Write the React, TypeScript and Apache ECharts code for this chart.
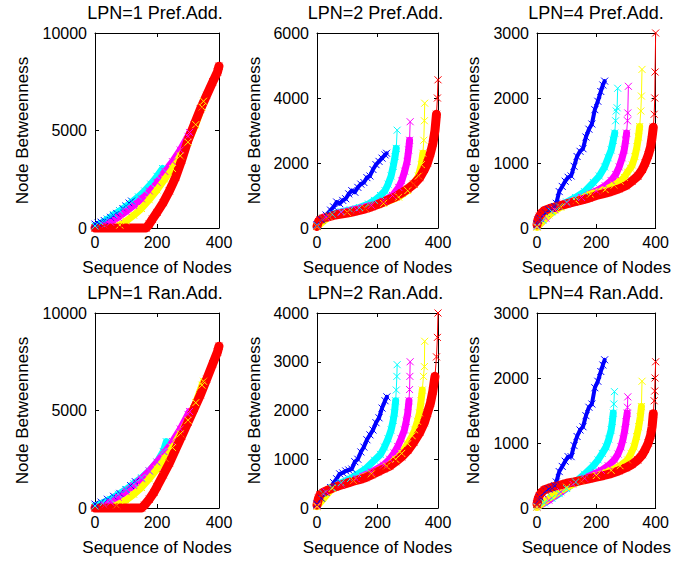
import React, { useEffect, useRef } from "react";
import * as echarts from "echarts";

// ---------- texts ----------
const panelTitles = [
  "LPN=1 Pref.Add.",
  "LPN=2 Pref.Add.",
  "LPN=4 Pref.Add.",
  "LPN=1 Ran.Add.",
  "LPN=2 Ran.Add.",
  "LPN=4 Ran.Add.",
];
const xAxisTitle = "Sequence of Nodes";
const yAxisTitle = "Node Betweenness";

// ---------- axis scales ----------
const xMax = 400;
const xStep = 200;
const yMaxes = [10000, 6000, 3000, 10000, 4000, 3000];
const ySteps = [5000, 2000, 1000, 5000, 1000, 1000];

const seriesColors = ["#0000ff", "#00ffff", "#ff00ff", "#ffff00", "#ff0000"];

// ---------- data: [node sequence, betweenness] ----------
// LPN=1 Pref.Add.
const lpn1PrefBlue = [[0,200],[10,250],[20,300],[30,380],[40,450],[50,550],[60,650],[70,750],[80,880],[90,1000],[100,1130],[110,1280],[118,1380]];
const lpn1PrefCyan = [[0,100],[20,250],[40,450],[60,680],[80,880],[100,1100],[120,1350],[140,1600],[160,1900],[180,2250],[200,2650],[218,3050]];
const lpn1PrefMagenta = [[30,150],[50,300],[75,550],[100,850],[125,1150],[150,1500],[175,1900],[200,2350],[225,2900],[250,3400],[275,4000],[300,4700],[305,4900]];
const lpn1PrefYellow = [[80,150],[100,350],[125,650],[150,1000],[175,1450],[200,1950],[225,2500],[250,3050],[275,3700],[300,4400],[325,5300],[345,6200],[350,6500]];
const lpn1PrefRed = [[0,0],[20,0],[40,0],[60,0],[80,0],[100,0],[120,0],[140,0],[165,0],[175,200],[185,450],[200,800],[220,1300],[240,1900],[260,2600],[280,3500],[300,4500],[320,5300],[340,6100],[360,6800],[380,7500],[395,8000],[400,8300]];

// LPN=2 Pref.Add.
const lpn2PrefBlue = [[0,100],[15,250],[30,400],[45,550],[55,650],[65,800],[75,750],[85,850],[95,900],[105,1050],[115,1150],[125,1100],[135,1250],[145,1350],[155,1400],[165,1550],[175,1600],[185,1800],[195,1950],[205,2050],[215,2150],[225,2250],[230,2300]];
const lpn2PrefCyan = [[0,80],[20,300],[50,420],[80,500],[110,560],[140,630],[170,740],[190,850],[210,1000],[225,1150],[235,1350],[245,1600],[252,1900],[258,2200],[262,2450],[265,3010]];
const lpn2PrefMagenta = [[0,60],[30,330],[80,480],[130,580],[180,700],[220,830],[250,1000],[270,1250],[280,1450],[290,1750],[298,2050],[303,2400],[306,2700],[308,3270]];
const lpn2PrefYellow = [[0,40],[40,350],[100,480],[160,600],[220,760],[270,950],[300,1150],[320,1350],[335,1600],[345,1950],[350,2300],[353,2700],[355,3300],[356,3840]];
const lpn2PrefRed = [[0,50],[5,200],[10,250],[20,300],[40,350],[60,400],[80,430],[100,460],[120,500],[140,540],[160,590],[180,650],[200,720],[220,800],[240,880],[260,960],[280,1080],[300,1200],[320,1350],[340,1550],[355,1800],[365,2000],[375,2300],[383,2600],[390,3000],[395,3500],[398,4000],[400,4560]];

// LPN=4 Pref.Add.
const lpn4PrefBlue = [[0,60],[5,120],[10,150],[20,200],[30,230],[40,280],[50,300],[60,330],[65,380],[75,560],[85,640],[95,720],[105,780],[115,800],[125,950],[135,1100],[145,1180],[155,1220],[165,1400],[175,1520],[185,1600],[195,1820],[205,1950],[215,2100],[222,2200],[228,2260]];
const lpn4PrefCyan = [[0,30],[20,120],[50,250],[75,330],[100,400],[130,470],[160,560],[190,700],[210,800],[228,940],[240,1080],[250,1200],[257,1350],[262,1460],[265,1650],[267,1800],[270,1850],[272,2150]];
const lpn4PrefMagenta = [[0,20],[30,150],[60,280],[100,380],[150,470],[200,570],[230,650],[250,730],[265,820],[277,940],[287,1080],[294,1200],[299,1350],[302,1460],[305,1650],[306,1770],[308,2180]];
const lpn4PrefYellow = [[0,10],[40,200],[80,320],[130,420],[180,520],[230,590],[260,660],[280,720],[294,780],[305,860],[315,920],[321,970],[330,1100],[337,1250],[342,1400],[346,1560],[350,1800],[352,2030],[354,2440]];
const lpn4PrefRed = [[0,50],[3,120],[8,180],[15,230],[25,270],[50,310],[75,340],[100,370],[125,400],[150,430],[175,460],[200,500],[225,530],[250,560],[275,600],[300,650],[320,720],[340,800],[355,900],[365,1000],[375,1120],[383,1250],[388,1400],[392,1550],[395,1750],[397,2000],[398,2400],[400,3000]];

// LPN=1 Ran.Add.
const lpn1RanBlue = [[0,200],[20,300],[40,450],[60,600],[80,750],[100,950],[115,1150],[130,1350]];
const lpn1RanCyan = [[0,100],[25,250],[50,450],[75,700],[100,950],[125,1250],[150,1550],[175,1900],[200,2350],[220,2900],[230,3400]];
const lpn1RanMagenta = [[30,150],[50,300],[75,550],[100,850],[125,1150],[150,1500],[175,1900],[200,2350],[225,2850],[250,3400],[275,4050],[300,4800],[305,4950]];
const lpn1RanYellow = [[70,150],[100,400],[125,700],[150,1050],[175,1500],[200,2000],[225,2550],[250,3100],[275,3800],[300,4500],[325,5400],[345,6300],[350,6500]];
const lpn1RanRed = [[0,0],[20,0],[40,0],[60,0],[80,0],[100,0],[120,0],[150,0],[160,150],[175,450],[190,800],[200,1100],[220,1700],[240,2300],[260,3000],[280,3700],[300,4400],[320,5100],[340,5800],[360,6600],[380,7400],[395,8000],[400,8300]];

// LPN=2 Ran.Add.
const lpn2RanBlue = [[0,80],[15,200],[30,320],[45,420],[55,520],[65,600],[75,700],[85,720],[95,760],[105,780],[115,800],[125,950],[135,1000],[145,1150],[155,1250],[165,1400],[175,1500],[185,1600],[195,1750],[205,1850],[215,2050],[225,2200],[231,2280]];
const lpn2RanCyan = [[0,60],[20,300],[50,420],[80,520],[110,600],[135,700],[160,800],[190,980],[210,1100],[223,1250],[235,1420],[245,1600],[252,1800],[256,1950],[260,2200],[262,2420],[264,2700],[265,2940]];
const lpn2RanMagenta = [[0,40],[30,330],[80,480],[130,600],[180,740],[220,880],[240,1000],[255,1130],[267,1260],[278,1420],[289,1600],[295,1780],[300,1950],[304,2200],[306,2430],[307,2700],[308,3000]];
const lpn2RanYellow = [[0,30],[50,400],[120,560],[180,700],[230,860],[260,1000],[280,1120],[300,1320],[315,1480],[323,1600],[332,1780],[339,1950],[344,2200],[348,2420],[352,2700],[355,2900],[356,3420]];
const lpn2RanRed = [[0,60],[5,200],[10,270],[20,320],[40,380],[60,430],[80,470],[100,510],[120,550],[140,580],[160,620],[180,680],[200,740],[220,800],[240,860],[260,950],[280,1050],[300,1180],[320,1350],[340,1550],[355,1750],[365,1950],[375,2150],[383,2400],[390,2700],[395,3100],[398,3500],[400,4000]];

// LPN=4 Ran.Add.
const lpn4RanBlue = [[0,60],[5,120],[10,170],[20,220],[30,260],[40,290],[50,310],[60,340],[65,400],[75,560],[85,640],[95,720],[105,790],[115,790],[125,960],[135,1100],[145,1200],[155,1250],[165,1420],[175,1550],[185,1600],[195,1850],[205,1950],[215,2100],[222,2200],[228,2280]];
const lpn4RanCyan = [[0,20],[25,80],[50,150],[75,220],[100,300],[130,400],[160,520],[190,650],[206,740],[220,840],[233,940],[242,1060],[250,1200],[254,1330],[257,1460],[259,1600],[261,1790]];
const lpn4RanMagenta = [[0,15],[40,120],[80,250],[120,370],[160,460],[200,540],[217,580],[240,650],[261,740],[273,830],[283,940],[290,1060],[296,1200],[300,1330],[304,1460],[305,1550],[306,1710]];
const lpn4RanYellow = [[0,10],[50,180],[100,320],[150,420],[200,500],[250,580],[280,650],[305,740],[317,840],[327,940],[336,1100],[343,1250],[348,1400],[352,1560],[354,1950]];
const lpn4RanRed = [[0,60],[3,130],[8,190],[15,240],[25,280],[50,320],[75,350],[100,380],[125,400],[150,425],[175,450],[200,475],[225,500],[250,530],[275,570],[300,620],[320,670],[340,740],[355,820],[365,900],[375,1000],[383,1120],[388,1250],[392,1450],[395,1650],[397,1800],[398,2000],[400,2250]];

const panelData = [
  [lpn1PrefBlue, lpn1PrefCyan, lpn1PrefMagenta, lpn1PrefYellow, lpn1PrefRed],
  [lpn2PrefBlue, lpn2PrefCyan, lpn2PrefMagenta, lpn2PrefYellow, lpn2PrefRed],
  [lpn4PrefBlue, lpn4PrefCyan, lpn4PrefMagenta, lpn4PrefYellow, lpn4PrefRed],
  [lpn1RanBlue, lpn1RanCyan, lpn1RanMagenta, lpn1RanYellow, lpn1RanRed],
  [lpn2RanBlue, lpn2RanCyan, lpn2RanMagenta, lpn2RanYellow, lpn2RanRed],
  [lpn4RanBlue, lpn4RanCyan, lpn4RanMagenta, lpn4RanYellow, lpn4RanRed],
];

// ---------- layout / style ----------
const FONT = '"Liberation Sans", Arial, Helvetica, sans-serif';
const grids = [
  { left: 95, top: 33, width: 124, height: 195 },
  { left: 317, top: 33, width: 121, height: 195 },
  { left: 537, top: 33, width: 122, height: 195 },
  { left: 95, top: 313, width: 124, height: 195 },
  { left: 317, top: 313, width: 121, height: 195 },
  { left: 537, top: 313, width: 122, height: 195 },
];
const yNameGaps = [64, 54, 55, 64, 54, 55];
const bandWidths = [4, 7, 7, 7, 9];
const X_MARK = "path://M0,0L10,10M10,0L0,10";

function bandEndIndex(data: number[][], yMax: number, g: { width: number; height: number }) {
  for (let k = 1; k < data.length; k++) {
    const dy = ((data[k][1] - data[k - 1][1]) / yMax) * g.height;
    const dx = ((data[k][0] - data[k - 1][0]) / xMax) * g.width;
    if (dx <= 0 || dy / dx > 11) return k - 1;
  }
  return data.length - 1;
}

function buildOption() {
  const xAxis: any[] = [];
  const yAxis: any[] = [];
  const series: any[] = [];
  const graphic: any[] = [];
  const line = { show: true, onZero: false, lineStyle: { color: "#000", width: 1 } };
  const tick = { show: true, inside: true, length: 4, lineStyle: { color: "#000", width: 1 } };

  grids.forEach((g, i) => {
    xAxis.push({
      gridIndex: i, type: "value", position: "bottom", min: 0, max: xMax, interval: xStep,
      axisLine: line, axisTick: tick, splitLine: { show: false },
      axisLabel: { color: "#000", fontSize: 16, fontFamily: FONT, margin: 6, formatter: (v: number) => String(v) },
      name: xAxisTitle, nameLocation: "middle", nameGap: 31,
      nameTextStyle: { color: "#000", fontSize: 17, fontFamily: FONT },
    });
    xAxis.push({
      gridIndex: i, type: "value", position: "top", min: 0, max: xMax, interval: xStep,
      axisLine: line, axisTick: tick, splitLine: { show: false }, axisLabel: { show: false },
    });
    yAxis.push({
      gridIndex: i, type: "value", position: "left", min: 0, max: yMaxes[i], interval: ySteps[i],
      axisLine: line, axisTick: tick, splitLine: { show: false },
      axisLabel: { color: "#000", fontSize: 16, fontFamily: FONT, margin: 8, formatter: (v: number) => String(v) },
      name: yAxisTitle, nameLocation: "middle", nameGap: yNameGaps[i], nameRotate: 90,
      nameTextStyle: { color: "#000", fontSize: 17, fontFamily: FONT },
    });
    yAxis.push({
      gridIndex: i, type: "value", position: "right", min: 0, max: yMaxes[i], interval: ySteps[i],
      axisLine: line, axisTick: tick, splitLine: { show: false }, axisLabel: { show: false },
    });

    graphic.push({
      type: "text",
      x: g.left + g.width / 2 - 2,
      y: g.top - 20,
      style: {
        text: panelTitles[i], fill: "#000", fontSize: 18, fontFamily: FONT,
        align: "center", verticalAlign: "middle", textAlign: "center", textVerticalAlign: "middle",
      },
    });

    panelData[i].forEach((data, j) => {
      const color = seriesColors[j];
      const end = bandEndIndex(data, yMaxes[i], g);
      series.push({
        type: "line", xAxisIndex: 2 * i, yAxisIndex: 2 * i, data: data.slice(0, end + 1),
        symbol: "none", showSymbol: false, clip: false, silent: true, z: 2,
        lineStyle: { color, width: bandWidths[j], cap: "round", join: "round" },
      });
      series.push({
        type: "line", xAxisIndex: 2 * i, yAxisIndex: 2 * i, data,
        symbol: X_MARK, symbolSize: 7, showSymbol: true, showAllSymbol: true, clip: false, silent: true, z: 2,
        itemStyle: { color, borderColor: color, borderWidth: 1 },
        lineStyle: { color, width: 1 },
      });
    });
  });

  return {
    animation: false,
    backgroundColor: "#fff",
    grid: grids.map((g) => ({ ...g, containLabel: false })),
    xAxis, yAxis, series, graphic,
  };
}

export default function App() {
  const ref = useRef<HTMLDivElement>(null);
  useEffect(() => {
    if (!ref.current) return;
    const chart = echarts.init(ref.current, null, { renderer: "svg" });
    chart.setOption(buildOption() as any);
    return () => chart.dispose();
  }, []);
  return (
    <div
      ref={ref}
      style={{ position: "absolute", left: 0, top: 0, width: 673, height: 563, background: "#fff" }}
    />
  );
}
